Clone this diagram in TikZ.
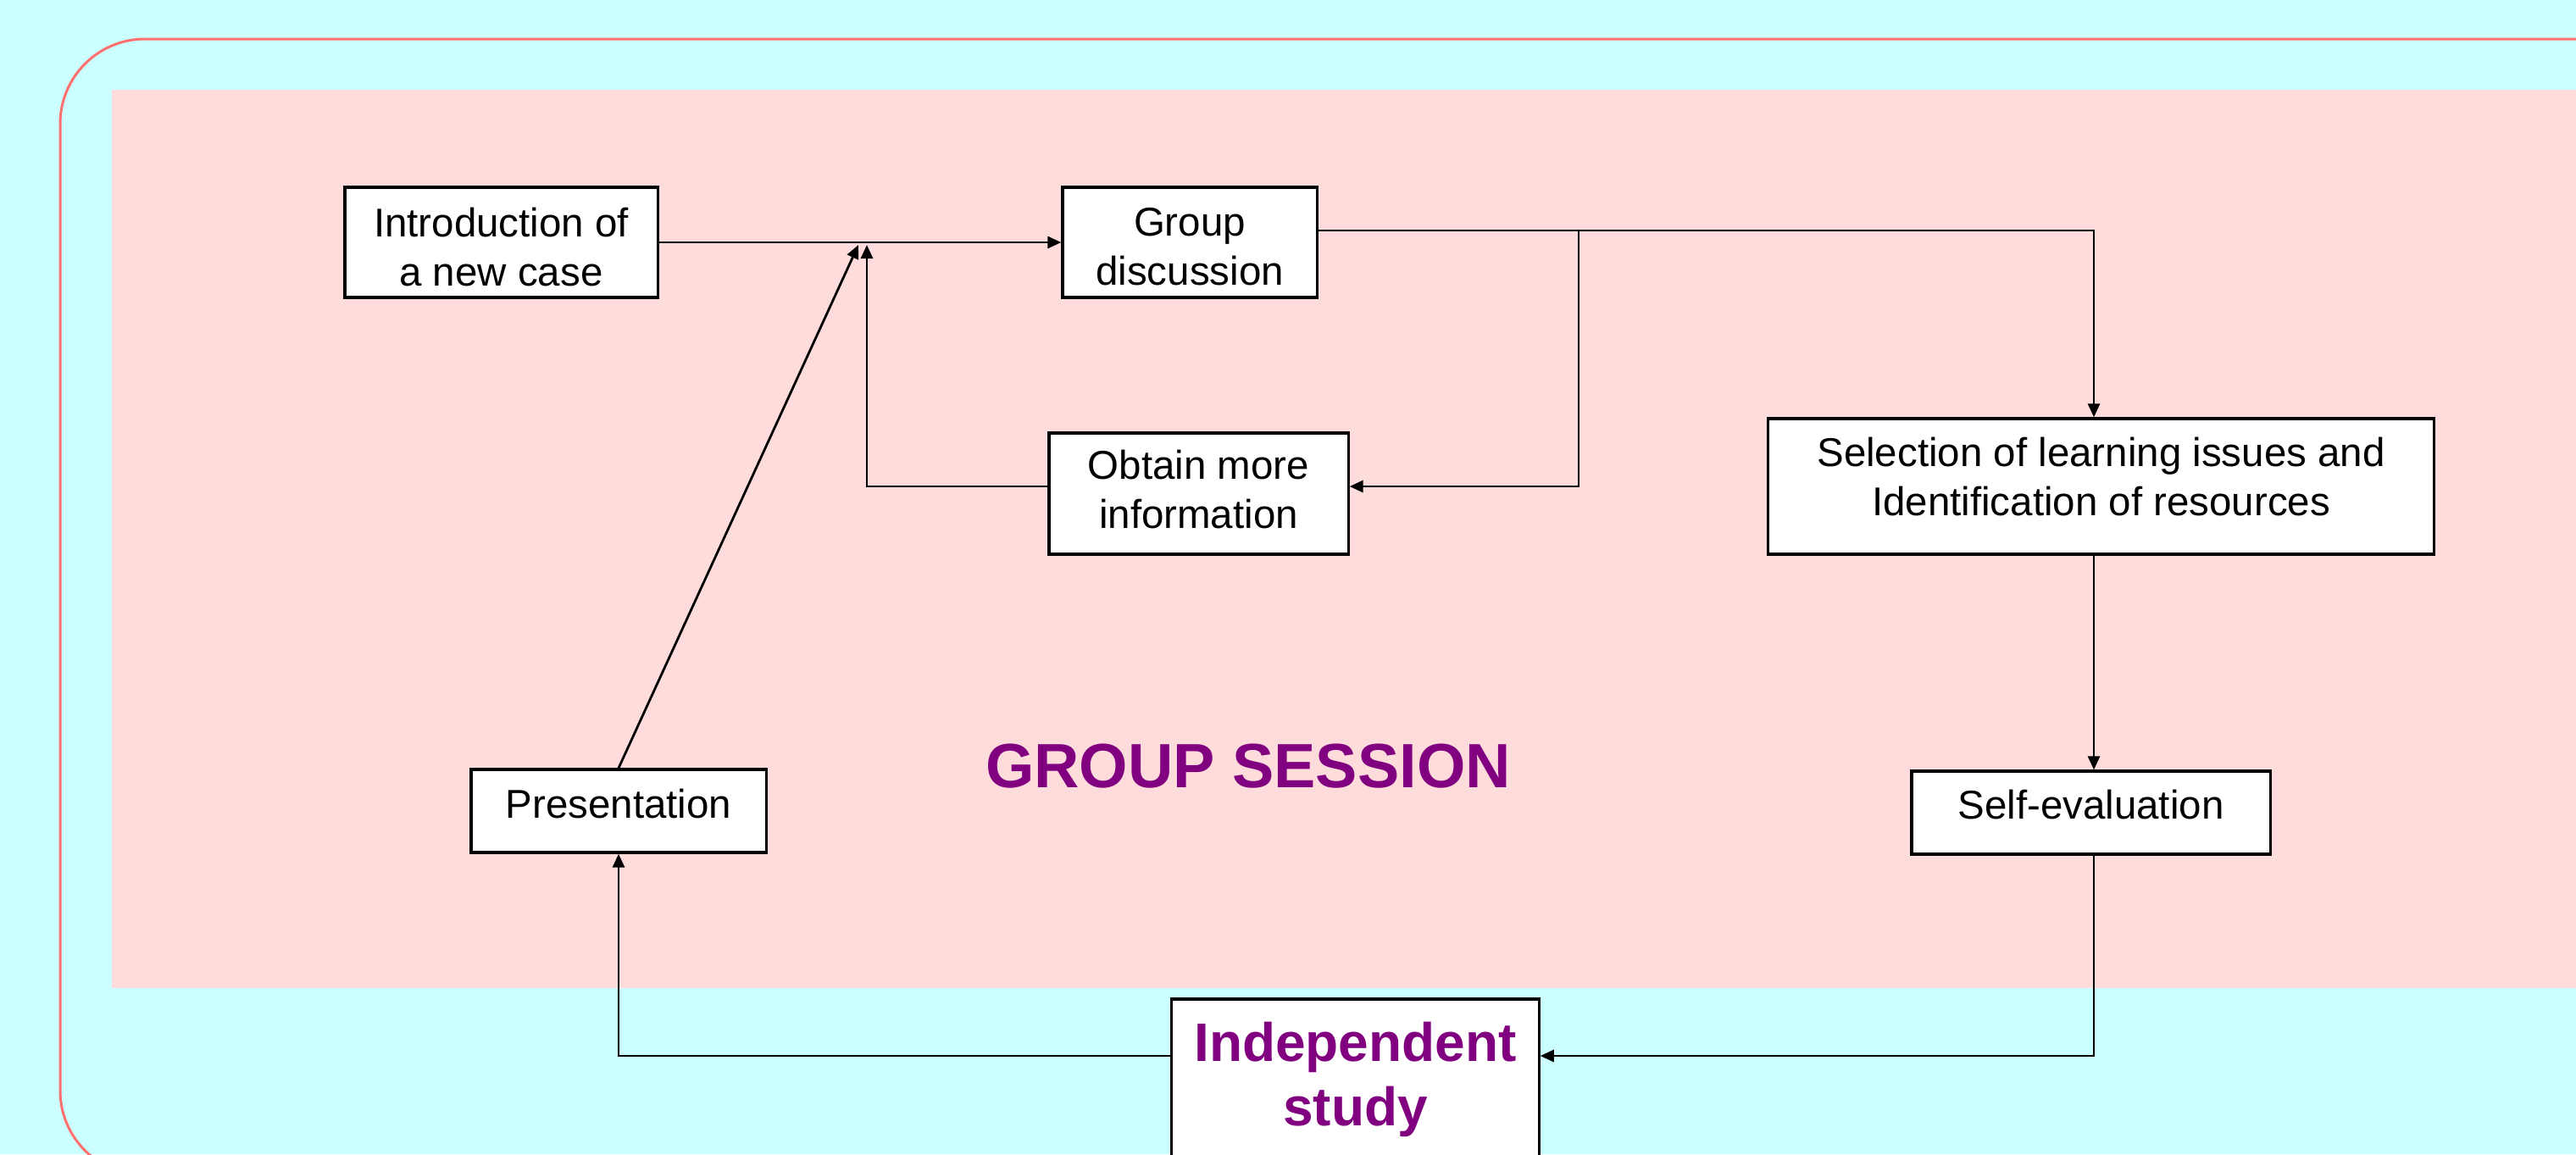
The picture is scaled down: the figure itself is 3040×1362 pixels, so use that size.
\documentclass[tikz,border=0pt]{standalone}
\usepackage{fontspec}
\setmainfont{Liberation Sans}
\usetikzlibrary{arrows.meta,calc}
\definecolor{cyanbg}{RGB}{204,255,255}
\definecolor{pinkbg}{RGB}{255,220,220}
\definecolor{framered}{RGB}{255,112,112}
\definecolor{titlepurple}{RGB}{128,0,128}
\newcommand{\addep}[1]{\rule[-#1]{0pt}{#1}}
\newcommand{\addht}[1]{\rule{0pt}{#1}}
\tikzset{
  stepbox/.style={draw=black, fill=white, line width=0.032cm, inner sep=0pt,
    align=center, font=\fontsize{13.5}{16.5}\selectfont},
  arr/.style={draw=black, line width=0.028cm, -{Triangle[length=0.16cm,width=0.14cm]}},
  bigtext/.style={text=titlepurple, font=\bfseries\fontsize{21}{25}\selectfont},
}
\begin{document}
\begin{tikzpicture}[x=0.01cm,y=-0.01cm]
\useasboundingbox (0,0) rectangle (3040,1362);
\clip (0,0) rectangle (3040,1362);
\fill[cyanbg] (0,0) rectangle (3040,1362);
\draw[framered, line width=0.03cm, rounded corners=1cm] (71,46) rectangle (3200,1387);
\fill[pinkbg] (132,106) rectangle (3100,1166);

% boxes
\node[stepbox, minimum width=3.69cm, minimum height=1.30cm] (intro) at (591.5,286) {\addht{0.46cm}Introduction of\\a new case};
\node[stepbox, minimum width=3.00cm, minimum height=1.30cm] (group) at (1404,286) {\addht{0.44cm}Group\\discussion};
\node[stepbox, minimum width=3.53cm, minimum height=1.43cm] (obtain) at (1414.5,582.5) {Obtain more\\information\addep{0.10cm}};
\node[stepbox, minimum width=7.85cm, minimum height=1.60cm] (select) at (2479.5,574) {Selection of learning issues and\\Identification of resources\addep{0.24cm}};
\node[stepbox, minimum width=3.48cm, minimum height=0.98cm] (present) at (730,957) {Presentation\addep{0.17cm}};
\node[stepbox, minimum width=4.23cm, minimum height=0.98cm] (selfev) at (2467.5,959) {Self-evaluation\addep{0.19cm}};
\node[stepbox, minimum width=4.33cm, minimum height=1.89cm, bigtext, font=\bfseries\fontsize{18.2}{21.6}\selectfont] (indep) at (1599.5,1273.5) {Independent\\study};

\node[bigtext, anchor=base] (session) at (1473,929) {GROUP SESSION};

% helper coordinates
\coordinate (colR) at (2471,0);
\coordinate (rowG) at (0,272);
\coordinate (rowO) at (0,574);
\coordinate (rowI) at (0,1246);
\coordinate (br) at (1863,272);
\coordinate (j1) at (1013,289);
\coordinate (j2) at (1023,289);

% connectors
\draw[arr] (intro.east) -- (group.west);
\draw[arr] (group.east |- rowG) -| (colR |- select.north);
\draw[arr] (br) |- (obtain.east |- rowO);
\draw[arr] (obtain.west |- rowO) -| (j2);
\draw[arr] (present.north) -- (j1);
\draw[arr] (colR |- select.south) -- (colR |- selfev.north);
\draw[arr] (colR |- selfev.south) |- (indep.east |- rowI);
\draw[arr] (indep.west |- rowI) -| (present.south);
\end{tikzpicture}
\end{document}
